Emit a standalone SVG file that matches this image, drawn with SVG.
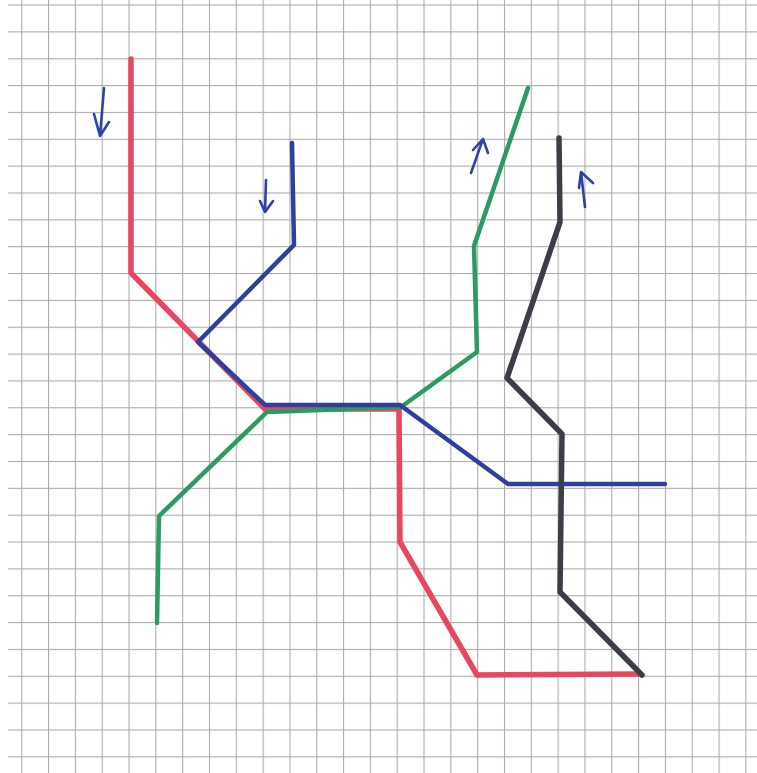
<svg xmlns="http://www.w3.org/2000/svg" width="757" height="773" viewBox="0 0 757 773">
<style>
.route{fill:none;stroke-linejoin:round;stroke-linecap:round}
.red{stroke:#e9475f;stroke-width:5.5}
.blue{stroke:#2e3f9c;stroke-width:4.5}
.green{stroke:#2b9a63;stroke-width:4.5}
.black{stroke:#3b3e46;stroke-width:5.5}
.arrow{fill:none;stroke:#2f42a8;stroke-width:2.6;stroke-linecap:round;stroke-linejoin:round}
</style>
<defs>
<pattern id="grid" patternUnits="userSpaceOnUse" x="21.2" y="4.5" width="26.82" height="26.85">
<rect x="0" y="0" width="1.1" height="26.85" fill="#ababab"/>
<rect x="0" y="0" width="26.82" height="1.1" fill="#ababab"/>
</pattern>
</defs>
<rect width="757" height="773" fill="#ffffff"/>
<rect x="8" y="0" width="749" height="773" fill="url(#grid)"/>
<g id="routes">
<g id="red-route"><path class="route red" d="M131,59 L131,273 L265,409 L399,409 L400,542 L477,675 L640,674"/></g>
<g id="green-route"><path class="route green" d="M528,88 L474,246 L477,352 L401,407 L267,412 L159,516 L157,623"/></g>
<g id="blue-route"><path class="route blue" d="M292,143 L294,245 L198,342 L265,405 L400,405 L508,484 L665,484"/></g>
<g id="black-route"><path class="route black" d="M559,138 L560,222 L507,378 L562,434 L560,592 L642,675"/></g>
</g>
<g id="arrows">
<g id="arrow1"><path class="arrow" d="M104,88 L100,136 M94,114 L100,136 L109,122"/></g>
<g id="arrow2"><path class="arrow" d="M266,180 L265,211 M260,201 L265,212 L273,201"/></g>
<g id="arrow3"><path class="arrow" d="M471,173 L483,139 M473,150 L483,139 L488,153"/></g>
<g id="arrow4"><path class="arrow" d="M585,207 L581,172 M579,188 L581,172 L593,183"/></g>
</g>
</svg>
